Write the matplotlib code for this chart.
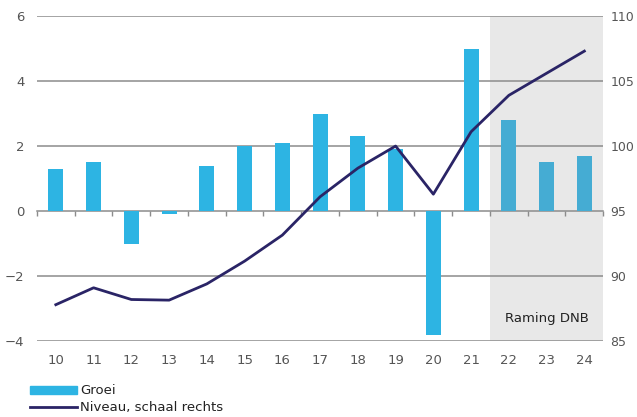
import matplotlib.pyplot as plt
import numpy as np
from matplotlib.patches import Patch
from matplotlib.lines import Line2D

# jaren (20xx), groei in % en niveau (2019 = 100)
jaren = ['10', '11', '12', '13', '14', '15', '16', '17', '18', '19',
         '20', '21', '22', '23', '24']
groei = [1.3, 1.5, -1.0, -0.1, 1.4, 2.0, 2.1, 3.0, 2.3, 1.9,
         -3.8, 5.0, 2.8, 1.5, 1.7]
niveau = [87.8, 89.1, 88.2, 88.15, 89.4, 91.15, 93.15, 96.1, 98.3, 100.0,
          96.3, 101.1, 103.9, 105.6, 107.3]
eerste_raming = 12  # vanaf 2022 raming

blauw = '#2db4e3'
blauw_raming = '#45acd3'
navy = '#2a2466'
grijs = '#8c8c8c'
tekst = '#555555'

x = np.arange(len(jaren))

fig = plt.figure(figsize=(6.37, 4.17), dpi=100)
ax = fig.add_axes([0.058, 0.182, 0.889, 0.7796])
ax2 = ax.twinx()

ax.set_xlim(-0.5, len(jaren) - 0.5)
ax.set_ylim(-4, 6)
ax2.set_ylim(85, 110)

# grijs vlak voor de ramingsjaren
ax.axvspan(eerste_raming - 0.5, len(jaren) - 0.5, color='#e8e8e8', lw=0, zorder=0)

for t in [-4, -2, 2, 4, 6]:
    ax.axhline(t, color=grijs, lw=1.1, zorder=1)

kleuren = [blauw if i < eerste_raming else blauw_raming for i in range(len(jaren))]
ax.bar(x, groei, width=0.4, color=kleuren, zorder=2)

ax2.plot(x, niveau, color=navy, lw=2, zorder=3)

for s in ax.spines.values():
    s.set_visible(False)
for s in ax2.spines.values():
    s.set_visible(False)

ax.set_yticks([-4, -2, 0, 2, 4, 6])
ax2.set_yticks([85, 90, 95, 100, 105, 110])
ax.set_xticks(x)
ax.set_xticklabels(jaren)
ax.tick_params(axis='both', length=0, labelsize=9.5, colors=tekst)
ax.tick_params(axis='x', pad=9)
ax.tick_params(axis='y', pad=9)
ax2.tick_params(axis='y', length=0, labelsize=9, colors=tekst, pad=5)

# nullijn met streepjes tussen de jaren
nul = ax.secondary_xaxis(0.4)
nul.spines['bottom'].set_color(grijs)
nul.spines['bottom'].set_linewidth(1.1)
nul.set_xticks(np.arange(-0.5, len(jaren), 1.0))
nul.tick_params(axis='x', length=3.5, width=1, color=grijs, labelbottom=False)

ax.text(13, -3.3, 'Raming DNB', ha='center', va='center', fontsize=9.5, color='#222222')

# legenda onder de grafiek
handles = [Patch(color=blauw), Line2D([], [], color=navy, lw=2)]
fig.legend(handles, ['Groei', 'Niveau, schaal rechts'], loc='upper left',
           bbox_to_anchor=(0.047, 0.078), frameon=False, fontsize=9.5,
           handlelength=3.6, handleheight=0.5, handletextpad=0.2,
           labelspacing=0.3, borderaxespad=0, borderpad=0, labelcolor='#222222')

fig.savefig('out.png', dpi=100)
